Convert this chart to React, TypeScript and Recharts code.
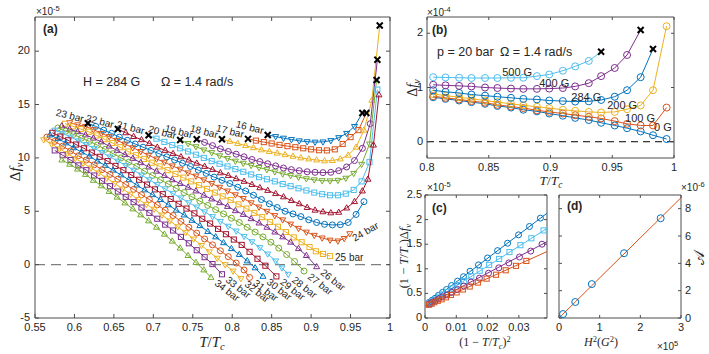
import React from 'react';
import { ScatterChart, Scatter, XAxis, YAxis, ReferenceLine, ReferenceDot } from 'recharts';

const W = 709;
const H = 354;
const SANS = '"Liberation Sans", Arial, Helvetica, sans-serif';
const SERIF = '"Liberation Serif", "Times New Roman", serif';
const INK = '#262626';
const BOX = '#4d4d4d';

const BLUE = '#0072BD';
const ORANGE = '#D95319';
const YELLOW = '#EDB120';
const PURPLE = '#7E2F8E';
const GREEN = '#77AC30';
const LBLUE = '#4DBEEE';
const RED = '#A2142F';
const palette = [BLUE, ORANGE, YELLOW, PURPLE, GREEN, LBLUE, RED];
const markerCycle = ['down', 'square', 'up', 'circle'];

// ---- panel (a): Δf_v (x1e-5) vs T/Tc, H = 284 G
const pressures = [16, 17, 18, 19, 20, 21, 22, 23, 24, 25, 26, 27, 28, 29, 30, 31, 32, 33, 34];
const p16 = [[0.845,12.15],[0.855,12.0],[0.865,11.85],[0.875,11.72],[0.885,11.6],[0.895,11.52],[0.905,11.48],[0.915,11.5],[0.925,11.62],[0.935,11.9],[0.945,12.3],[0.955,12.95],[0.965,14.2]];
const p17 = [[0.82,11.78],[0.83,11.62],[0.84,11.48],[0.85,11.35],[0.86,11.22],[0.87,11.1],[0.88,11.0],[0.89,10.9],[0.9,10.8],[0.91,10.72],[0.92,10.7],[0.93,10.8],[0.94,11.3],[0.95,11.95],[0.96,12.6],[0.97,14.2]];
const p18 = [[0.787,11.75],[0.797,11.55],[0.807,11.35],[0.817,11.15],[0.827,10.95],[0.837,10.75],[0.847,10.6],[0.857,10.45],[0.867,10.3],[0.877,10.15],[0.887,10.0],[0.897,9.9],[0.907,9.8],[0.917,9.72],[0.927,9.75],[0.937,9.9],[0.947,10.25],[0.957,11.0],[0.967,12.6],[0.977,15.4],[0.987,22.4]];
const p19 = [[0.755,11.75],[0.765,11.45],[0.775,11.15],[0.785,10.85],[0.795,10.6],[0.805,10.35],[0.815,10.1],[0.825,9.85],[0.835,9.65],[0.845,9.45],[0.855,9.25],[0.865,9.05],[0.875,8.9],[0.885,8.8],[0.895,8.7],[0.905,8.65],[0.915,8.62],[0.925,8.65],[0.935,8.8],[0.945,9.15],[0.955,9.75],[0.965,10.9],[0.975,13.2],[0.984,19.2]];
const p20 = [[0.734,11.68],[0.744,11.35],[0.754,11.05],[0.764,10.75],[0.774,10.5],[0.784,10.2],[0.794,9.95],[0.804,9.7],[0.814,9.5],[0.824,9.3],[0.834,9.1],[0.844,8.9],[0.854,8.7],[0.864,8.5],[0.874,8.35],[0.884,8.2],[0.894,8.05],[0.904,7.95],[0.914,7.87],[0.924,7.85],[0.934,7.9],[0.944,8.1],[0.954,8.55],[0.964,9.4],[0.974,11.3],[0.983,17.3]];
const p21 = [[0.694,12.12],[0.704,11.8],[0.714,11.5],[0.724,11.2],[0.734,10.9],[0.744,10.6],[0.754,10.3],[0.764,10.0],[0.774,9.7],[0.784,9.45],[0.794,9.2],[0.804,8.95],[0.814,8.7],[0.824,8.45],[0.834,8.2],[0.844,8.0],[0.854,7.8],[0.864,7.55],[0.874,7.35],[0.884,7.15],[0.894,6.95],[0.904,6.75],[0.914,6.6],[0.924,6.5],[0.934,6.5],[0.944,6.65],[0.954,7.0],[0.964,7.8],[0.974,9.6],[0.984,16.4]];
const p22 = [[0.655,12.7],[0.665,12.35],[0.675,12.0],[0.685,11.7],[0.695,11.35],[0.705,11.0],[0.715,10.7],[0.725,10.4],[0.735,10.1],[0.745,9.8],[0.755,9.5],[0.765,9.2],[0.775,8.9],[0.785,8.6],[0.795,8.35],[0.805,8.05],[0.815,7.8],[0.825,7.5],[0.835,7.2],[0.845,6.95],[0.855,6.65],[0.865,6.35],[0.875,6.0],[0.885,5.7],[0.895,5.35],[0.905,5.1],[0.915,4.95],[0.925,4.85],[0.935,4.9],[0.945,5.3],[0.955,5.9],[0.965,6.9],[0.972,8.0],[0.979,11.2],[0.986,15.9]];
const p23 = [[0.617,13.24],[0.627,12.95],[0.637,12.6],[0.647,12.3],[0.657,11.95],[0.667,11.65],[0.677,11.3],[0.687,11.0],[0.697,10.7],[0.707,10.4],[0.717,10.1],[0.727,9.8],[0.737,9.5],[0.747,9.2],[0.757,8.85],[0.767,8.55],[0.777,8.2],[0.787,7.9],[0.797,7.6],[0.807,7.25],[0.817,6.9],[0.827,6.5],[0.837,6.1],[0.847,5.7],[0.857,5.35],[0.867,5.0],[0.877,4.75],[0.887,4.5],[0.897,4.2],[0.907,3.95],[0.917,3.78],[0.927,3.72],[0.937,3.74],[0.947,3.95],[0.957,4.7],[0.967,5.9]];
const p24 = [[0.594,13.3],[0.604,13.1],[0.614,12.95],[0.624,12.65],[0.634,12.3],[0.644,12.0],[0.654,11.65],[0.664,11.3],[0.674,10.95],[0.684,10.6],[0.694,10.25],[0.704,9.9],[0.714,9.6],[0.724,9.25],[0.734,8.95],[0.744,8.6],[0.754,8.3],[0.764,7.95],[0.774,7.6],[0.784,7.25],[0.794,6.9],[0.804,6.55],[0.814,6.2],[0.824,5.8],[0.834,5.4],[0.844,5.0],[0.854,4.6],[0.864,4.2],[0.874,3.8],[0.884,3.4],[0.894,3.05],[0.904,2.75],[0.914,2.5],[0.924,2.3],[0.934,2.22],[0.942,2.45],[0.949,2.9]];
const p25 = [[0.588,13.2],[0.598,12.95],[0.608,12.7],[0.618,12.45],[0.628,12.1],[0.638,11.75],[0.648,11.4],[0.658,11.0],[0.668,10.6],[0.678,10.25],[0.688,9.9],[0.698,9.55],[0.708,9.2],[0.718,8.85],[0.728,8.5],[0.738,8.15],[0.748,7.8],[0.758,7.45],[0.768,7.1],[0.778,6.75],[0.788,6.4],[0.798,6.05],[0.808,5.65],[0.818,5.25],[0.828,4.85],[0.838,4.45],[0.848,4.0],[0.858,3.55],[0.868,3.05],[0.878,2.55],[0.888,2.1],[0.898,1.65],[0.906,1.25],[0.915,1.0],[0.924,0.8]];
const p26 = [[0.584,13.0],[0.594,12.7],[0.604,12.45],[0.614,12.15],[0.624,11.85],[0.634,11.5],[0.644,11.1],[0.654,10.7],[0.664,10.3],[0.674,9.95],[0.684,9.55],[0.694,9.15],[0.704,8.75],[0.714,8.35],[0.724,7.95],[0.734,7.6],[0.744,7.25],[0.754,6.9],[0.764,6.5],[0.774,6.15],[0.784,5.8],[0.794,5.45],[0.804,5.05],[0.814,4.7],[0.824,4.3],[0.834,3.9],[0.844,3.5],[0.854,3.05],[0.864,2.6],[0.874,2.1],[0.884,1.5],[0.894,0.85],[0.907,-0.2]];
const p27 = [[0.579,12.8],[0.589,12.5],[0.599,12.2],[0.609,11.85],[0.619,11.55],[0.629,11.2],[0.639,10.8],[0.649,10.4],[0.659,10.0],[0.669,9.6],[0.679,9.2],[0.689,8.75],[0.699,8.35],[0.709,7.95],[0.719,7.55],[0.729,7.15],[0.739,6.75],[0.749,6.35],[0.759,5.95],[0.769,5.55],[0.779,5.15],[0.789,4.75],[0.799,4.35],[0.809,3.95],[0.819,3.5],[0.829,3.05],[0.839,2.6],[0.849,2.1],[0.859,1.55],[0.869,0.95],[0.879,0.3],[0.891,-0.6]];
const p28 = [[0.575,12.6],[0.585,12.3],[0.595,11.95],[0.605,11.6],[0.615,11.25],[0.625,10.9],[0.635,10.5],[0.645,10.1],[0.655,9.7],[0.665,9.3],[0.675,8.85],[0.685,8.4],[0.695,7.95],[0.705,7.5],[0.715,7.1],[0.725,6.65],[0.735,6.25],[0.745,5.8],[0.755,5.4],[0.765,4.95],[0.775,4.5],[0.785,4.05],[0.795,3.6],[0.805,3.15],[0.815,2.65],[0.825,2.15],[0.835,1.6],[0.845,1.0],[0.855,0.35],[0.863,-0.3],[0.871,-0.9]];
const p29 = [[0.572,12.35],[0.582,12.0],[0.592,11.65],[0.602,11.25],[0.612,10.9],[0.622,10.5],[0.632,10.1],[0.642,9.7],[0.652,9.25],[0.662,8.85],[0.672,8.4],[0.682,7.95],[0.692,7.5],[0.702,7.05],[0.712,6.6],[0.722,6.15],[0.732,5.7],[0.742,5.25],[0.752,4.8],[0.762,4.3],[0.772,3.85],[0.782,3.35],[0.792,2.85],[0.802,2.35],[0.812,1.85],[0.822,1.2],[0.832,0.55],[0.842,-0.1],[0.856,-1.1]];
const p30 = [[0.569,12.15],[0.579,11.8],[0.589,11.4],[0.599,10.95],[0.609,10.55],[0.619,10.15],[0.629,9.7],[0.639,9.3],[0.649,8.85],[0.659,8.4],[0.669,7.95],[0.679,7.45],[0.689,7.0],[0.699,6.55],[0.709,6.1],[0.719,5.6],[0.729,5.1],[0.739,4.65],[0.749,4.15],[0.759,3.65],[0.769,3.1],[0.779,2.6],[0.789,2.05],[0.799,1.5],[0.809,0.95],[0.819,0.35],[0.829,-0.3],[0.839,-1.1]];
const p31 = [[0.565,11.95],[0.575,11.55],[0.585,11.1],[0.595,10.65],[0.605,10.2],[0.615,9.8],[0.625,9.35],[0.635,8.9],[0.645,8.45],[0.655,8.0],[0.665,7.5],[0.675,7.05],[0.685,6.55],[0.695,6.1],[0.705,5.6],[0.715,5.1],[0.725,4.6],[0.735,4.05],[0.745,3.5],[0.755,2.95],[0.765,2.4],[0.775,1.85],[0.785,1.3],[0.795,0.75],[0.805,0.15],[0.815,-0.5],[0.822,-1.2]];
const p32 = [[0.561,11.7],[0.571,11.3],[0.581,10.85],[0.591,10.4],[0.601,9.95],[0.611,9.5],[0.621,9.05],[0.631,8.6],[0.641,8.1],[0.651,7.6],[0.661,7.1],[0.671,6.6],[0.681,6.1],[0.691,5.65],[0.701,5.2],[0.711,4.65],[0.721,4.1],[0.731,3.55],[0.741,3.0],[0.751,2.4],[0.761,1.8],[0.771,1.2],[0.781,0.6],[0.791,0.0],[0.801,-0.6],[0.811,-1.3]];
const p33 = [[0.575,10.7],[0.585,10.25],[0.595,9.8],[0.605,9.3],[0.615,8.85],[0.625,8.35],[0.635,7.85],[0.645,7.35],[0.655,6.85],[0.665,6.35],[0.675,5.85],[0.685,5.35],[0.695,4.85],[0.705,4.3],[0.715,3.75],[0.725,3.2],[0.735,2.6],[0.745,2.0],[0.755,1.35],[0.765,0.7],[0.775,0.05],[0.787,-0.9]];
const p34 = [[0.584,9.8],[0.594,9.4],[0.604,8.95],[0.614,8.45],[0.624,7.9],[0.634,7.38],[0.644,6.85],[0.654,6.32],[0.664,5.78],[0.674,5.22],[0.684,4.66],[0.694,4.1],[0.704,3.5],[0.714,2.85],[0.724,2.2],[0.734,1.55],[0.744,0.85],[0.754,0.2],[0.764,-0.5],[0.773,-1.2]];
const curvesA = [p16, p17, p18, p19, p20, p21, p22, p23, p24, p25, p26, p27, p28, p29, p30, p31, p32, p33, p34];
const crossStartA = [16, 17, 18, 19, 20, 21, 22, 23];
const crossEndA = [16, 17, 18, 19, 20];

// ---- panel (b): Δf_v (x1e-4) vs T/Tc at 20 bar, several fields
const tB = [0.805, 0.815, 0.826, 0.836, 0.847, 0.857, 0.868, 0.878, 0.889, 0.899, 0.91, 0.92, 0.931, 0.941, 0.952, 0.962, 0.973, 0.983, 0.994];
const fieldsB = ['0 G', '100 G', '200 G', '284 G', '400 G', '500 G'];
const b0 = [0.82, 0.79, 0.76, 0.73, 0.7, 0.66, 0.63, 0.59, 0.56, 0.52, 0.48, 0.44, 0.4, 0.35, 0.3, 0.25, 0.19, 0.12, 0.05];
const b100 = [0.84, 0.81, 0.78, 0.75, 0.72, 0.68, 0.65, 0.62, 0.58, 0.55, 0.52, 0.49, 0.46, 0.43, 0.38, 0.33, 0.3, 0.3, 0.63];
const b200 = [0.88, 0.85, 0.82, 0.79, 0.76, 0.73, 0.7, 0.67, 0.645, 0.62, 0.59, 0.57, 0.55, 0.54, 0.55, 0.6, 0.67, 0.95, 2.13];
const b284 = [0.95, 0.92, 0.9, 0.87, 0.85, 0.83, 0.81, 0.79, 0.78, 0.76, 0.75, 0.74, 0.745, 0.77, 0.83, 0.95, 1.19, 1.71];
const b400 = [1.05, 1.04, 1.03, 1.02, 1.0, 0.99, 0.98, 0.975, 0.975, 0.98, 0.99, 1.02, 1.08, 1.21, 1.36, 1.6, 2.06];
const b500 = [1.19, 1.185, 1.18, 1.175, 1.175, 1.175, 1.18, 1.18, 1.21, 1.24, 1.31, 1.39, 1.49, 1.66];
const curvesB = [b0, b100, b200, b284, b400, b500];
const colorsB = [BLUE, ORANGE, YELLOW, BLUE, PURPLE, LBLUE];
const crossEndB = ['284 G', '400 G', '500 G'];
const labelAtB = [[0.991, 0.27], [0.9725, 0.43], [0.958, 0.67], [0.929, 0.82], [0.903, 1.09], [0.873, 1.29]];

// ---- panel (c): (1-T/Tc)Δf_v (x1e-5) vs (1-T/Tc)^2
const c0 = [[0.0369,2.03],[0.0334,1.86],[0.0299,1.69],[0.0264,1.52],[0.0232,1.37],[0.02,1.22],[0.0171,1.08],[0.0144,0.95],[0.0123,0.84],[0.0104,0.75],[0.0085,0.66],[0.0069,0.58],[0.0056,0.52],[0.0043,0.46],[0.0032,0.4],[0.0022,0.36],[0.0014,0.32],[0.0007,0.28]];
const c1 = [[0.0379,1.78],[0.034,1.62],[0.0305,1.48],[0.027,1.34],[0.0237,1.2],[0.0205,1.08],[0.0175,0.96],[0.0148,0.85],[0.0125,0.75],[0.0105,0.67],[0.0087,0.6],[0.007,0.53],[0.0056,0.48],[0.0044,0.43],[0.0033,0.38],[0.0023,0.34],[0.0015,0.31],[0.0008,0.28]];
const c2 = [[0.0374,1.5],[0.0338,1.36],[0.0302,1.24],[0.0268,1.12],[0.0236,1.02],[0.0203,0.91],[0.0174,0.81],[0.0147,0.73],[0.0124,0.65],[0.0104,0.58],[0.0086,0.52],[0.007,0.47],[0.0056,0.43],[0.0044,0.39],[0.0033,0.35],[0.0023,0.32],[0.0014,0.29]];
const c3 = [[0.0324,1.16],[0.0291,1.06],[0.0258,0.97],[0.0227,0.88],[0.0197,0.8],[0.0169,0.72],[0.0143,0.64],[0.0121,0.58],[0.0101,0.52],[0.0083,0.47],[0.0067,0.42],[0.0053,0.38],[0.0041,0.35],[0.003,0.32],[0.0021,0.29],[0.0013,0.27]];
const fitC = [[[0, 0.25], [0.039, 2.13]], [[0, 0.25], [0.039, 1.82]], [[0, 0.24], [0.039, 1.55]], [[0, 0.23], [0.039, 1.35]]];
const seriesC = [c0, c1, c2, c3];
const colorsC = [BLUE, LBLUE, PURPLE, ORANGE];
const markersC = ['circle', 'square', 'circle', 'square'];

// ---- panel (d): A (x1e-6) vs H^2 (x1e5 G^2)
const h2 = [0.1, 0.4, 0.807, 1.6, 2.5];
const ampA = [0.29, 1.17, 2.48, 4.74, 7.3];
const fitD = [[0, 0], [3, 8.8]];

const toPts = (arr: number[][]) => arr.map(([x, y]) => ({ x, y }));
const noDot = () => <g />;

const Mark = ({ cx, cy, kind, color, s }: any) => {
  if (cx == null || cy == null) return <g />;
  if (kind === 'circle') return <circle cx={cx} cy={cy} r={s} fill="none" stroke={color} strokeWidth={1} />;
  if (kind === 'square') {
    const h = s * 0.85;
    return <rect x={cx - h} y={cy - h} width={2 * h} height={2 * h} fill="none" stroke={color} strokeWidth={1} />;
  }
  const d = kind === 'up' ? 1 : -1;
  const pts = `${cx},${cy - d * s * 1.1} ${cx - s},${cy + d * s * 0.65} ${cx + s},${cy + d * s * 0.65}`;
  return <polygon points={pts} fill="none" stroke={color} strokeWidth={1} />;
};

const Cross = ({ cx, cy, s }: any) => (
  <g stroke="#000" strokeWidth={2}>
    <line x1={cx - s} y1={cy - s} x2={cx + s} y2={cy + s} />
    <line x1={cx - s} y1={cy + s} x2={cx + s} y2={cy - s} />
  </g>
);

// inward MATLAB-style ticks, labels drawn only on the labelled sides
const tickFn = (side: string, show: boolean, len: number, gap: number) => (p: any) => {
  const x = p.x;
  const y = p.y;
  const v = p.payload ? p.payload.value : '';
  let l = [x, y, x, y - len];
  if (side === 'top') l = [x, y, x, y + len];
  if (side === 'left') l = [x, y, x + len, y];
  if (side === 'right') l = [x, y, x - len, y];
  let t = null;
  if (show) {
    const common = { fontSize: 11, fontFamily: SANS, fill: INK };
    if (side === 'bottom') t = <text x={x} y={y + 13} textAnchor="middle" {...common}>{String(v)}</text>;
    if (side === 'left') t = <text x={x - gap} y={y + 3} textAnchor="end" {...common}>{String(v)}</text>;
    if (side === 'right') t = <text x={x + gap} y={y + 3.5} textAnchor="start" {...common}>{String(v)}</text>;
  }
  return (
    <g>
      <line x1={l[0]} y1={l[1]} x2={l[2]} y2={l[3]} stroke={BOX} strokeWidth={1} />
      {t}
    </g>
  );
};

// axes get 1px of room each (recharts skips zero-size axes), margins are reduced by 1 to compensate
const boxAxes = (o: any) => {
  const common = { type: 'number' as const, allowDataOverflow: true, interval: 0 as const, tickSize: 0, tickMargin: 0, tickLine: false, axisLine: { stroke: BOX, strokeWidth: 1 } };
  return [
    <XAxis key="xb" xAxisId={0} dataKey="x" domain={o.xd} ticks={o.xt} height={1} tick={tickFn('bottom', true, o.len, o.gap)} {...common} />,
    <XAxis key="xt" xAxisId="top" orientation="top" dataKey="x" domain={o.xd} ticks={o.xt} height={1} tick={tickFn('top', false, o.len, o.gap)} {...common} />,
    <YAxis key="yl" yAxisId={0} dataKey="y" domain={o.yd} ticks={o.yt} width={1} tick={tickFn('left', !o.yRight, o.len, o.gap)} {...common} />,
    <YAxis key="yr" yAxisId="r" orientation="right" dataKey="y" domain={o.yd} ticks={o.yt} width={1} tick={tickFn('right', !!o.yRight, o.len, o.gap)} {...common} />,
  ];
};

const box = (top: number, left: number, right: number, bottom: number) => ({ top: top - 1, left: left - 1, right: right - 1, bottom: bottom - 1 });

const seriesEls = (key: string, pts: any[], marks: any[], color: string, kind: string, s: number, lw: number) => [
  <Scatter key={key + 'l'} data={pts} shape={noDot} line={{ stroke: color, strokeWidth: lw }} lineType="joint" isAnimationActive={false} />,
  <Scatter key={key + 'm'} data={marks} shape={(p: any) => <Mark cx={p.cx} cy={p.cy} kind={kind} color={color} s={s} />} isAnimationActive={false} />,
];

const textLabel = (text: string, dx: number, dy: number, angle: number, anchor: string, size: number) => (p: any) => {
  const vb = p.viewBox || { x: 0, y: 0, width: 0, height: 0 };
  const x = vb.x + (vb.width || 0) / 2 + dx;
  const y = vb.y + (vb.height || 0) / 2 + dy;
  return (
    <text x={x} y={y} transform={`rotate(${angle} ${x} ${y})`} textAnchor={anchor} fontSize={size} fontFamily={SANS} fill={INK}>
      {text}
    </text>
  );
};

const labelStyleA = (pr: number) => {
  if (pr <= 23) return { dx: -5, dy: -1, angle: 14, anchor: 'end' };
  if (pr === 24) return { dx: 5, dy: 8, angle: -30, anchor: 'start' };
  if (pr === 25) return { dx: 5, dy: 5, angle: 0, anchor: 'start' };
  return { dx: 3, dy: 7, angle: 38, anchor: 'start' };
};

const layer: React.CSSProperties = { position: 'absolute', left: 0, top: 0 };

const PanelA = () => {
  const els: any[] = [];
  curvesA.forEach((c, i) => {
    const pr = pressures[i];
    const pts = toPts(c);
    const from = crossStartA.includes(pr) ? 1 : 0;
    const to = crossEndA.includes(pr) ? pts.length - 1 : pts.length;
    els.push(...seriesEls('a' + pr, pts, pts.slice(from, to), palette[i % 7], markerCycle[i % 4], 3, 1));
  });
  const crosses: any[] = [];
  curvesA.forEach((c, i) => {
    const pr = pressures[i];
    if (crossStartA.includes(pr)) crosses.push({ x: c[0][0], y: c[0][1] });
    if (crossEndA.includes(pr)) crosses.push({ x: c[c.length - 1][0], y: c[c.length - 1][1] });
  });
  const labels = curvesA.map((c, i) => {
    const pr = pressures[i];
    const at = pr <= 23 ? c[0] : c[c.length - 1];
    const st = labelStyleA(pr);
    return (
      <ReferenceDot key={'lab' + pr} x={at[0]} y={at[1]} r={0} fill="none" stroke="none" ifOverflow="visible"
        label={textLabel(`${pr} bar`, st.dx, st.dy, st.angle, st.anchor, 10)} />
    );
  });
  return (
    <div style={layer}>
      <ScatterChart width={W} height={H} margin={box(17, 35, 319, 36)}>
        {boxAxes({ xd: [0.55, 1], xt: [0.55, 0.6, 0.65, 0.7, 0.75, 0.8, 0.85, 0.9, 0.95, 1], yd: [-5, 23.2], yt: [-5, 0, 5, 10, 15, 20], len: 4, gap: 5 })}
        <ReferenceLine y={0} stroke="#7f7f7f" strokeDasharray="10 6" strokeWidth={1.3} />
        {els}
        <Scatter data={crosses} shape={(p: any) => <Cross cx={p.cx} cy={p.cy} s={3} />} isAnimationActive={false} />
        {labels}
      </ScatterChart>
    </div>
  );
};

const PanelB = () => {
  const els: any[] = [];
  const crosses: any[] = [];
  curvesB.forEach((vals, i) => {
    const pts = vals.map((v, k) => ({ x: tB[k], y: v }));
    const hasCross = crossEndB.includes(fieldsB[i]);
    if (hasCross) crosses.push(pts[pts.length - 1]);
    els.push(...seriesEls('b' + i, pts, hasCross ? pts.slice(0, -1) : pts, colorsB[i], 'circle', 3.5, 1));
  });
  return (
    <div style={layer}>
      <ScatterChart width={W} height={H} margin={box(17, 427, 35, 196)}>
        {boxAxes({ xd: [0.8, 1], xt: [0.8, 0.85, 0.9, 0.95, 1], yd: [-0.3, 2.3], yt: [0, 1, 2], len: 3, gap: 4 })}
        <ReferenceLine y={0} stroke="#000" strokeDasharray="7 5" strokeWidth={1} />
        {els}
        <Scatter data={crosses} shape={(p: any) => <Cross cx={p.cx} cy={p.cy} s={3} />} isAnimationActive={false} />
        {fieldsB.map((f, i) => (
          <ReferenceDot key={'bl' + i} x={labelAtB[i][0]} y={labelAtB[i][1]} r={0} fill="none" stroke="none" ifOverflow="visible"
            label={textLabel(f, 0, 4, 0, 'middle', 11)} />
        ))}
      </ScatterChart>
    </div>
  );
};

const PanelC = () => (
  <div style={layer}>
    <ScatterChart width={W} height={H} margin={box(195, 425, 162, 36)}>
      {boxAxes({ xd: [0, 0.039], xt: [0, 0.01, 0.02, 0.03], yd: [0, 2.5], yt: [0, 0.5, 1, 1.5, 2, 2.5], len: 3, gap: 3 })}
      {fitC.map((f, i) => (
        <Scatter key={'fc' + i} data={toPts(f)} shape={noDot} line={{ stroke: colorsC[i], strokeWidth: 1 }} lineType="joint" isAnimationActive={false} />
      ))}
      {seriesC.map((s, i) => (
        <Scatter key={'sc' + i} data={toPts(s)} shape={(p: any) => <Mark cx={p.cx} cy={p.cy} kind={markersC[i]} color={colorsC[i]} s={3} />} isAnimationActive={false} />
      ))}
    </ScatterChart>
  </div>
);

const PanelD = () => (
  <div style={layer}>
    <ScatterChart width={W} height={H} margin={box(195, 559, 28, 36)}>
      {boxAxes({ xd: [0, 3], xt: [0, 1, 2, 3], yd: [0, 9], yt: [0, 2, 4, 6, 8], len: 3, gap: 4, yRight: true })}
      <Scatter data={toPts(fitD)} shape={noDot} line={{ stroke: ORANGE, strokeWidth: 1 }} lineType="joint" isAnimationActive={false} />
      <Scatter data={h2.map((x, i) => ({ x, y: ampA[i] }))} shape={(p: any) => <Mark cx={p.cx} cy={p.cy} kind="circle" color={BLUE} s={3.5} />} isAnimationActive={false} />
    </ScatterChart>
  </div>
);

const Exp = ({ x, y, base, exp }: any) => (
  <text x={x} y={y} fontSize={10} fontFamily={SANS} fill={INK}>
    {base}
    <tspan dy={-4} fontSize={7.5}>{exp}</tspan>
  </text>
);

const TTc = () => (
  <>
    <tspan fontStyle="italic">T</tspan>/<tspan fontStyle="italic">T</tspan>
    <tspan fontStyle="italic" fontSize="0.7em" dy={3}>c</tspan>
  </>
);

const Overlay = () => (
  <svg width={W} height={H} style={{ ...layer, pointerEvents: 'none' }}>
    <g fontFamily={SANS} fill={INK}>
      <Exp x={36} y={15} base="×10" exp="-5" />
      <Exp x={427} y={16} base="×10" exp="-4" />
      <Exp x={427} y={191} base="×10" exp="-5" />
      <Exp x={681} y={191} base="×10" exp="-6" />
      <Exp x={657} y={350} base="×10" exp="5" />
      <text x={43} y={33} fontSize={12} fontWeight="bold">(a)</text>
      <text x={432} y={34} fontSize={12} fontWeight="bold">(b)</text>
      <text x={432} y={212} fontSize={12} fontWeight="bold">(c)</text>
      <text x={567} y={210} fontSize={12} fontWeight="bold">(d)</text>
      <text x={83} y={86} fontSize={12.5}>H = 284 G</text>
      <text x={161} y={86} fontSize={12.5}>Ω = 1.4 rad/s</text>
      <text x={437} y={56} fontSize={12.5}>p = 20 bar</text>
      <text x={500} y={56} fontSize={12.5}>Ω = 1.4 rad/s</text>
    </g>
    <g fontFamily={SERIF} fill={INK}>
      <text transform="translate(20,172) rotate(-90)" textAnchor="middle" fontSize={15}>
        Δ<tspan fontStyle="italic">f</tspan><tspan fontStyle="italic" fontSize={10} dy={3}>v</tspan>
      </text>
      <text x={212} y={347} textAnchor="middle" fontSize={15}><TTc /></text>
      <text transform="translate(417,88) rotate(-90)" textAnchor="middle" fontSize={14}>
        Δ<tspan fontStyle="italic">f</tspan><tspan fontStyle="italic" fontSize={10} dy={3}>v</tspan>
      </text>
      <text x={551} y={185} textAnchor="middle" fontSize={13.5}><TTc /></text>
      <text transform="translate(408,256) rotate(-90)" textAnchor="middle" fontSize={12.5}>
        (1 − <TTc /><tspan dy={-3}>)Δ</tspan><tspan fontStyle="italic">f</tspan><tspan fontStyle="italic" fontSize={9} dy={3}>v</tspan>
      </text>
      <text x={485} y={346} textAnchor="middle" fontSize={12}>
        (1 − <TTc /><tspan dy={-3}>)</tspan><tspan fontSize={8.5} dy={-4}>2</tspan>
      </text>
      <text x={601} y={346} textAnchor="middle" fontSize={12}>
        <tspan fontStyle="italic">H</tspan><tspan fontSize={8.5} dy={-4}>2</tspan><tspan dy={4}>(</tspan><tspan fontStyle="italic">G</tspan><tspan fontSize={8.5} dy={-4}>2</tspan><tspan dy={4}>)</tspan>
      </text>
      <text transform="translate(704,258) rotate(-90)" textAnchor="middle" fontSize={15} fontFamily='"DejaVu Sans", serif'>𝒜</text>
    </g>
  </svg>
);

export default function App() {
  return (
    <div style={{ position: 'absolute', left: 0, top: 0, width: W, height: H, background: '#fff', overflow: 'hidden' }}>
      <PanelA />
      <PanelB />
      <PanelC />
      <PanelD />
      <Overlay />
    </div>
  );
}
